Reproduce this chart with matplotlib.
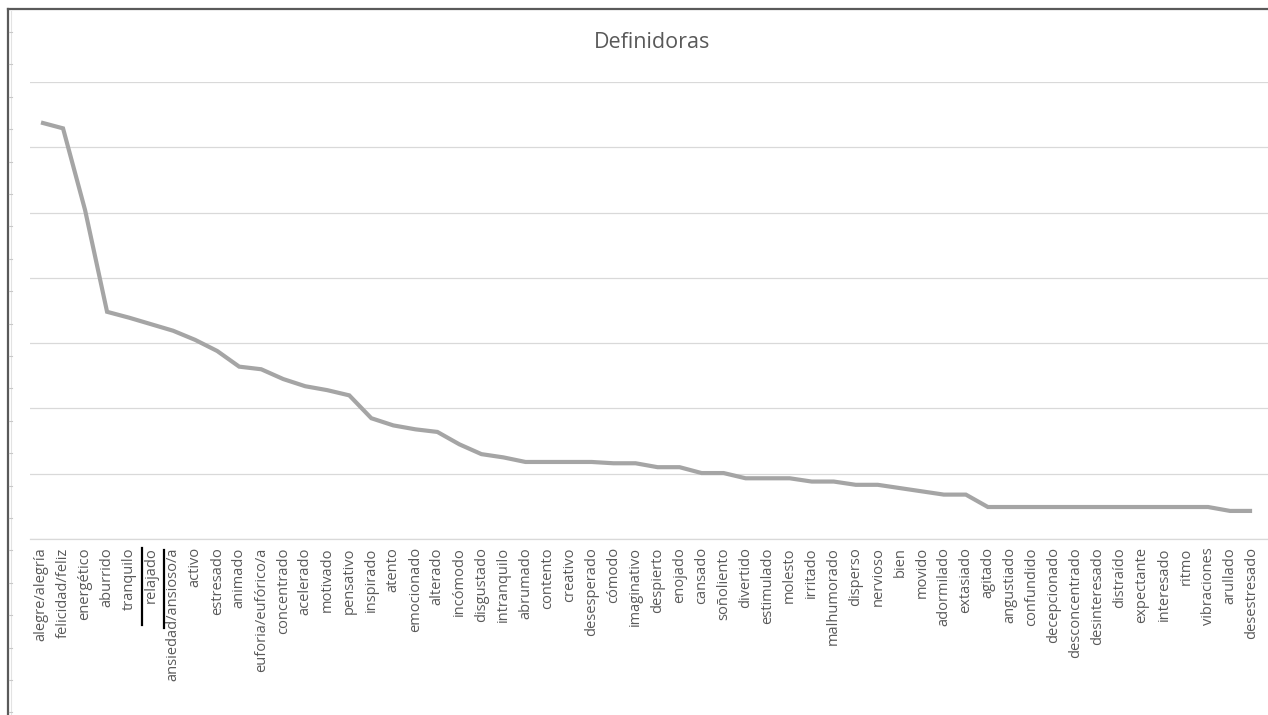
import matplotlib
matplotlib.use("Agg")
from matplotlib import pyplot as plt
from matplotlib.lines import Line2D

plt.rcParams['font.family'] = ['Open Sans', 'DejaVu Sans']

# categories and values (y axis 0-70)
categorias = [
    "alegre/alegría", "felicidad/feliz", "energético", "aburrido", "tranquilo",
    "relajado", "ansiedad/ansioso/a", "activo", "estresado", "animado",
    "euforia/eufórico/a", "concentrado", "acelerado", "motivado", "pensativo",
    "inspirado", "atento", "emocionado", "alterado", "incómodo",
    "disgustado", "intranquilo", "abrumado", "contento", "creativo",
    "desesperado", "cómodo", "imaginativo", "despierto", "enojado",
    "cansado", "soñoliento", "divertido", "estimulado", "molesto",
    "irritado", "malhumorado", "disperso", "nervioso", "bien",
    "movido", "adormilado", "extasiado", "agitado", "angustiado",
    "confundido", "decepcionado", "desconcentrado", "desinteresado", "distraído",
    "expectante", "interesado", "ritmo", "vibraciones", "arullado",
    "desestresado",
]
valores = [
    63.8, 62.9, 50.4, 34.8, 33.9,
    32.9, 31.9, 30.5, 28.8, 26.4,
    26.0, 24.5, 23.4, 22.8, 22.0,
    18.5, 17.4, 16.8, 16.4, 14.5,
    13.0, 12.5, 11.8, 11.8, 11.8,
    11.8, 11.6, 11.6, 11.0, 11.0,
    10.1, 10.1, 9.3, 9.3, 9.3,
    8.8, 8.8, 8.3, 8.3, 7.8,
    7.3, 6.8, 6.8, 4.9, 4.9,
    4.9, 4.9, 4.9, 4.9, 4.9,
    4.9, 4.9, 4.9, 4.9, 4.3,
    4.3,
]
titulo = "Definidoras"

W, H = 1268, 715
fig = plt.figure(figsize=(W / 100, H / 100), dpi=100)

# plot area in pixels: left 30, bottom 539, top 82
left, right, top, bottom = 30, 1268, 82, 539
ax = fig.add_axes([left / W, 1 - bottom / H, (right - left) / W, (bottom - top) / H])

x = list(range(len(categorias)))
ax.plot(x, valores, color="#A5A5A5", linewidth=3.0, solid_joinstyle="miter",
        solid_capstyle="butt", zorder=3)

paso = 22.02
ax.set_xlim(-0.5, -0.5 + (right - left) / paso)
ax.set_ylim(0, 70)
ax.set_yticks(range(0, 71, 10))
ax.set_yticklabels([])
ax.tick_params(axis="y", length=0)
ax.grid(axis="y", color="#D9D9D9", linewidth=0.9)
ax.set_axisbelow(True)

ax.set_xticks(x)
ax.set_xticklabels(categorias, rotation=90, fontsize=10.5, color="#595959")
ax.tick_params(axis="x", length=0, pad=6)

for s in ["top", "right", "left"]:
    ax.spines[s].set_visible(False)
ax.spines["bottom"].set_color("#D9D9D9")
ax.spines["bottom"].set_linewidth(0.9)

fig.text(652 / W, 1 - 42 / H, titulo, ha="center", va="center",
         fontsize=15.5, color="#595959")

# screenshot frame (left and top border with small tick marks)
def px(xp, yp):
    return xp / W, 1 - yp / H

fig.add_artist(Line2D(*zip(px(8, 9), px(8, H)), color="#5a5a5a", linewidth=1.6))
fig.add_artist(Line2D(*zip(px(8, 9), px(W, 9)), color="#5a5a5a", linewidth=1.6))
fig.add_artist(Line2D(*zip(px(11, 11), px(11, H)), color="#e3e3e3", linewidth=0.8))
yt = 32.0
while yt < H:
    fig.add_artist(Line2D(*zip(px(9, yt), px(11.5, yt)), color="#c8c8c8", linewidth=0.8))
    yt += 32.4

# hand-drawn black marks around "relajado"
fig.add_artist(Line2D(*zip(px(142, 548), px(142, 625)), color="black", linewidth=1.6))
fig.add_artist(Line2D(*zip(px(164, 550), px(164, 628)), color="black", linewidth=1.6))

fig.savefig("out.png", dpi=100)
